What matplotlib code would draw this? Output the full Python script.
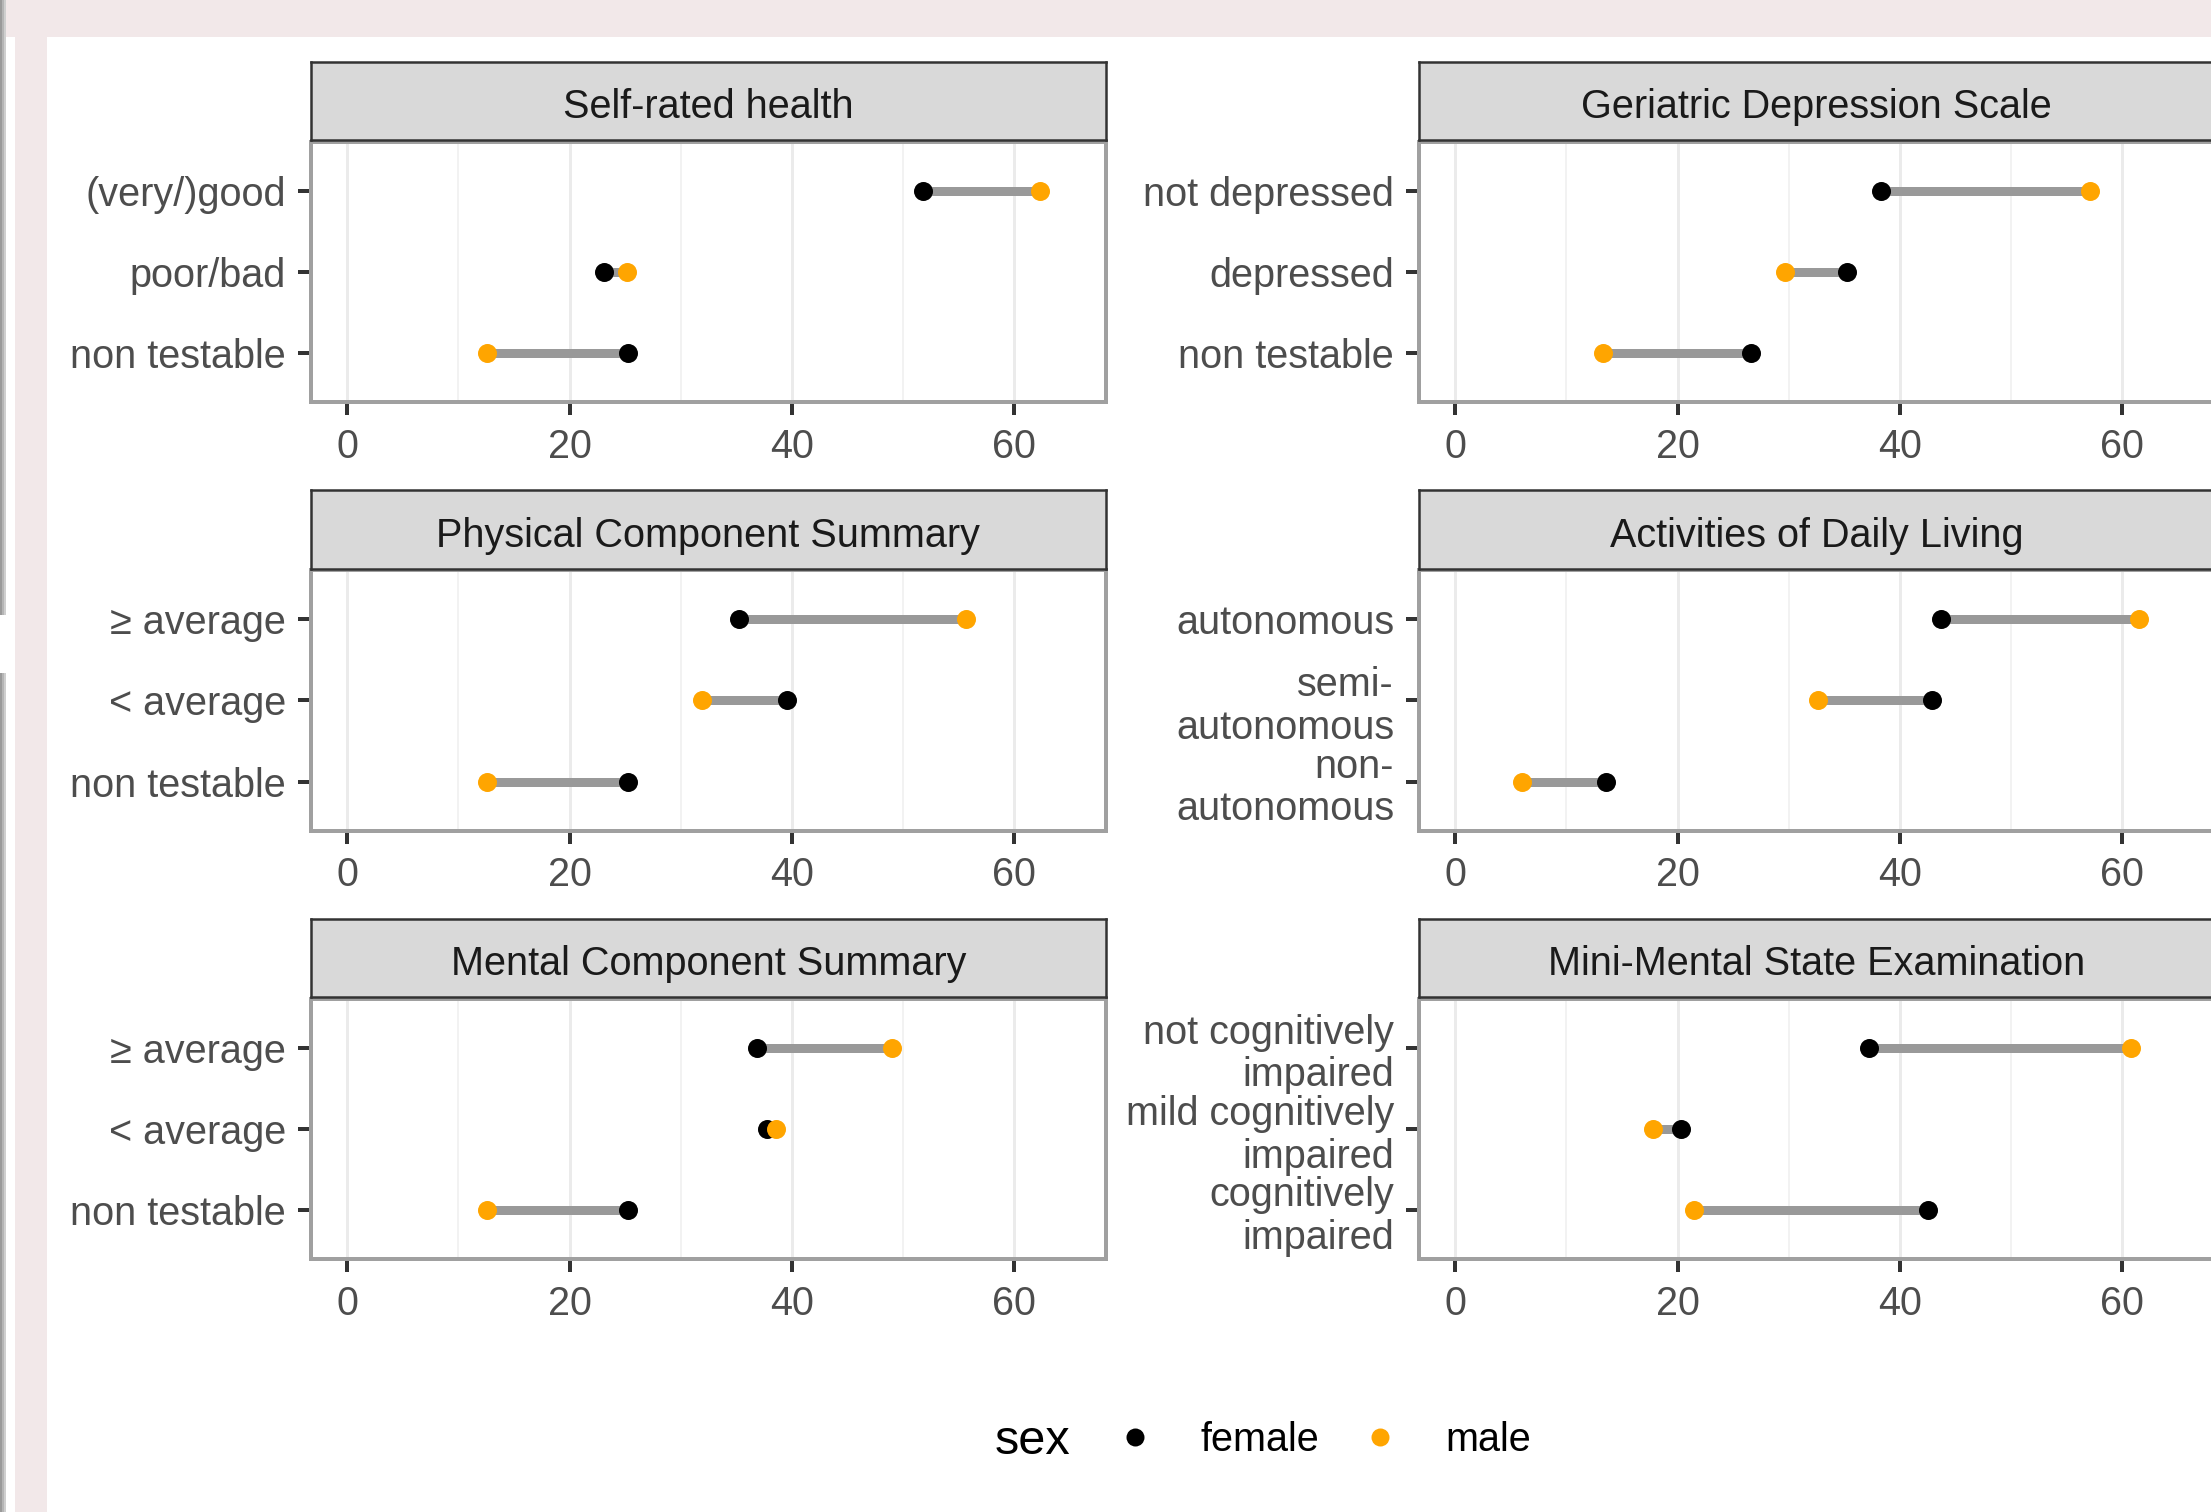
import matplotlib
matplotlib.use("Agg")
import matplotlib.pyplot as plt
from matplotlib.patches import Rectangle
from matplotlib.lines import Line2D

plt.rcParams['font.family'] = ['Liberation Sans', 'DejaVu Sans']

# ---------------- data ----------------
panel_titles = ["Self-rated health", "Geriatric Depression Scale",
                "Physical Component Summary", "Activities of Daily Living",
                "Mental Component Summary", "Mini-Mental State Examination"]

cats_srh = ["(very/)good", "poor/bad", "non testable"]
female_srh = [51.8, 23.1, 25.3]
male_srh = [62.3, 25.2, 12.6]

cats_gds = ["not depressed", "depressed", "non testable"]
female_gds = [38.3, 35.2, 26.6]
male_gds = [57.1, 29.7, 13.3]

cats_pcs = ["\u2265 average", "< average", "non testable"]
female_pcs = [35.2, 39.6, 25.3]
male_pcs = [55.7, 31.9, 12.6]

cats_adl = ["autonomous", "semi-\nautonomous", "non-\nautonomous"]
female_adl = [43.7, 42.9, 13.6]
male_adl = [61.5, 32.6, 6.0]

cats_mcs = ["\u2265 average", "< average", "non testable"]
female_mcs = [36.9, 37.8, 25.3]
male_mcs = [49.0, 38.6, 12.6]

cats_mmse = ["not cognitively\nimpaired", "mild cognitively\nimpaired", "cognitively\nimpaired"]
female_mmse = [37.2, 20.3, 42.5]
male_mmse = [60.8, 17.8, 21.5]

x_ticks = [0, 20, 40, 60]
legend_title = "sex"
legend_labels = ["female", "male"]

panels = [
    (cats_srh, female_srh, male_srh),
    (cats_gds, female_gds, male_gds),
    (cats_pcs, female_pcs, male_pcs),
    (cats_adl, female_adl, male_adl),
    (cats_mcs, female_mcs, male_mcs),
    (cats_mmse, female_mmse, male_mmse),
]

# ---------------- figure ----------------
W, H = 2211, 1512
DPI = 100
fig = plt.figure(figsize=(W / DPI, H / DPI), dpi=DPI)
fig.patch.set_facecolor("white")

def px2pt(p):
    return p * 72.0 / DPI

def rect(x0, y0, x1, y1):
    """pixel box (top-left origin) -> figure fraction [l, b, w, h]"""
    return [x0 / W, 1 - y1 / H, (x1 - x0) / W, (y1 - y0) / H]

# screenshot surroundings
pink = "#F2E8E9"
fig.patches.append(Rectangle((0, 1 - 37 / H), 1, 37 / H, transform=fig.transFigure,
                             facecolor=pink, edgecolor="none", zorder=-10))
fig.patches.append(Rectangle((15 / W, 0), 32 / W, 1, transform=fig.transFigure,
                             facecolor=pink, edgecolor="none", zorder=-10))
for i, c in enumerate(["#9a9a9a", "#b5b5b5", "#cfcfcf"]):
    for (ya, yb) in [(0, 615), (673, H)]:
        fig.patches.append(Rectangle((i * 2 / W, 1 - yb / H), 2 / W, (yb - ya) / H,
                                     transform=fig.transFigure, facecolor=c,
                                     edgecolor="none", zorder=-9))

col_x = [(311, 1106), (1419, 2214)]
row_off = [0, 428.5, 857]

female_col = "black"
male_col = "#FFA500"
seg_col = "#999999"

for idx, (cats, fem, mal) in enumerate(panels):
    r, c = divmod(idx, 2)
    x0, x1 = col_x[c]
    off = row_off[r]
    ax = fig.add_axes(rect(x0, 142 + off, x1, 402 + off))
    ys = list(range(len(cats)))
    ax.hlines(ys, fem, mal, color=seg_col, lw=px2pt(9), zorder=2)
    ax.plot(fem, ys, 'o', color=female_col, ms=px2pt(19), mec='none', zorder=3)
    ax.plot(mal, ys, 'o', color=male_col, ms=px2pt(19), mec='none', zorder=4)
    ax.set_xlim(-3.25, 68.25)
    ax.set_ylim(len(cats) - 1 + 0.6, -0.6)
    ax.set_xticks(x_ticks)
    ax.set_xticks([10, 30, 50], minor=True)
    ax.set_yticks(ys, labels=cats)
    for t in ax.get_yticklabels():
        t.set_linespacing(1.15)
    ax.grid(True, axis='x', which='major', color='#EBEBEB', lw=px2pt(3), zorder=0)
    ax.grid(True, axis='x', which='minor', color='#F0F0F0', lw=px2pt(1.6), zorder=0)
    ax.set_axisbelow(True)
    ax.tick_params(axis='both', which='major', length=px2pt(13), width=px2pt(4),
                   color='#333333', labelcolor='#4D4D4D', labelsize=28.5)
    ax.tick_params(axis='x', which='major', pad=px2pt(13))
    ax.tick_params(axis='y', which='major', pad=px2pt(12))
    ax.tick_params(axis='x', which='minor', length=0)
    for s in ax.spines.values():
        s.set_color('#A0A0A0')
        s.set_linewidth(px2pt(4))

    # facet strip
    sax = fig.add_axes(rect(x0, 62 + off, x1, 140 + off))
    sax.set_facecolor('#D9D9D9')
    sax.set_xticks([])
    sax.set_yticks([])
    for s in sax.spines.values():
        s.set_color('#333333')
        s.set_linewidth(px2pt(2.5))
    sax.text(0.5, 0.42, panel_titles[idx], ha='center', va='center',
             fontsize=28.5, color='#1A1A1A', transform=sax.transAxes)

# legend
fig.text(995 / W, 1 - 1441 / H, legend_title, fontsize=35, color='black',
         ha='left', va='center')
handles = [Line2D([], [], ls='none', marker='o', color=female_col, ms=px2pt(18), mec='none'),
           Line2D([], [], ls='none', marker='o', color=male_col, ms=px2pt(18), mec='none')]
fig.legend(handles, legend_labels, ncol=2, loc='center left',
           bbox_to_anchor=(1115 / W, 1 - 1440 / H), frameon=False, fontsize=28.5,
           handlelength=1.0, handletextpad=1.15, columnspacing=1.05,
           borderpad=0, borderaxespad=0)

fig.savefig("out.png", dpi=DPI, facecolor=fig.get_facecolor())
